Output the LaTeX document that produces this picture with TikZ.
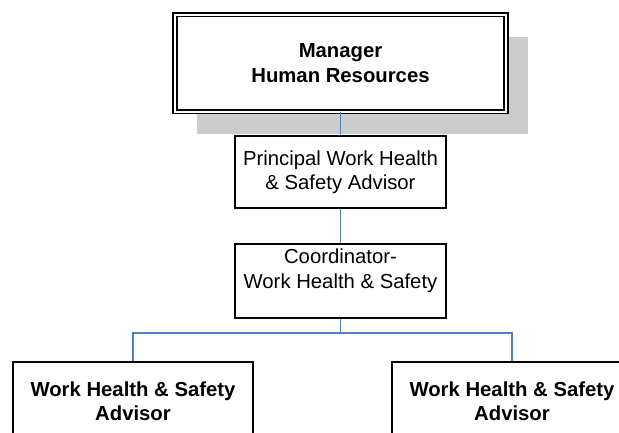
\documentclass[tikz,border=0pt]{standalone}
\usepackage{fontspec}
\setmainfont{Liberation Sans}
\usetikzlibrary{shadows}

\definecolor{linkblue}{RGB}{79,129,189}

\begin{document}
\begin{tikzpicture}[x=1pt,y=-1pt]

  \useasboundingbox (0,0) rectangle (619,432);
  \clip (0,0) rectangle (619,432);

  % node styles
  \tikzstyle{Box}=[
  draw,
  line width=1.7pt,
  shape=rectangle,
  align=center,
  inner sep=0pt,
  font=\fontsize{20.3}{24.5}\selectfont,
  minimum width=211pt,
  minimum height=72pt]

  \tikzstyle{Head}=[Box,
  font=\fontsize{20.3}{25.5}\selectfont\bfseries,
  double,double distance=2pt,line width=1.6pt,
  minimum width=331pt,minimum height=97pt,
  drop shadow={shadow xshift=22pt,shadow yshift=-22pt,
    fill=black!20,opacity=1}]

  \tikzstyle{Staff}=[Box,
  font=\fontsize{20.3}{24}\selectfont\bfseries,
  minimum width=240pt,minimum height=78pt]

  \tikzstyle{Link}=[line width=1.5pt,color=linkblue]

  \draw node[Head,fill=white] (M) at (340.5, 63) {Manager\\Human Resources};

  \draw node[Box] (P) at (340.5,172) {Principal Work Health\\\& Safety Advisor};
  \draw node[Box,minimum height=74pt] (C) at (340.5,281)
    {Coordinator-\\Work Health \& Safety\\~};

  \draw node[Staff] (W1) at (133,401) {Work Health \& Safety\\Advisor};
  \draw node[Staff] (W2) at (512,401) {Work Health \& Safety\\Advisor};

  \coordinate (B) at (340.5,333);

  \draw[Link] (M.south) -- (P.north);
  \draw[Link] (P.south) -- (C.north);
  \draw[Link] (C.south) -- (B);
  \draw[Link] (B) -| (W1.north);
  \draw[Link] (B) -| (W2.north);

\end{tikzpicture}
\end{document}
